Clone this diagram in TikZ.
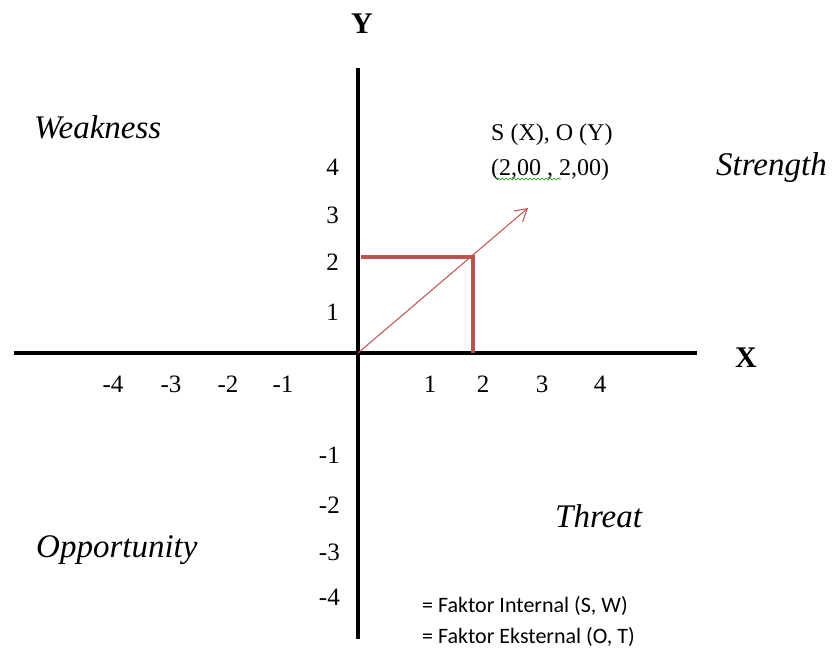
\documentclass[tikz,border=0pt]{standalone}
\usepackage{fontspec}
\setmainfont{Liberation Serif}
\newfontfamily\legendfont{Carlito}
\usepackage{xcolor}
\usetikzlibrary{arrows.meta, decorations.pathmorphing}

\definecolor{swotred}{RGB}{192,80,77}

\begin{document}
\begin{tikzpicture}[
    x=1pt, y=-1pt,
    axis/.style={line width=4.5pt},
    tick/.style={font=\fontsize{25}{30}\selectfont, inner sep=0pt},
    quadrant/.style={font=\fontsize{33}{38}\selectfont\itshape, inner sep=0pt, anchor=base west},
    axis_label/.style={font=\fontsize{30}{36}\selectfont\bfseries, inner sep=0pt, anchor=base},
    point_text/.style={font=\fontsize{24}{28}\selectfont, inner sep=0pt, anchor=base west},
    legend/.style={font=\legendfont\fontsize{22}{26}\selectfont, inner sep=0pt, anchor=base west},
    point_line/.style={swotred, line width=4pt},
    vector/.style={-{Straight Barb[length=12pt, width=14pt]}, swotred, line width=1pt}
]
\useasboundingbox (0,0) rectangle (833,667);

% axes
\coordinate (xl) at (14,353);
\coordinate (xr) at (697,353);
\coordinate (yt) at (358,68);
\coordinate (yb) at (358,639);
\draw [axis] (xl) -- (xr);
\draw [axis] (yt) -- (yb);
\node (xlab) [axis_label] at (746,367) {X};
\node (ylab) [axis_label] at (362,33) {Y};

% tick labels
\node (xm4) [tick, anchor=base] at (113,392) {-4};
\node (xm3) [tick, anchor=base] at (171,392) {-3};
\node (xm2) [tick, anchor=base] at (228,392) {-2};
\node (xm1) [tick, anchor=base] at (283,392) {-1};
\node (xp1) [tick, anchor=base] at (430,392) {1};
\node (xp2) [tick, anchor=base] at (483,392) {2};
\node (xp3) [tick, anchor=base] at (542,392) {3};
\node (xp4) [tick, anchor=base] at (600,392) {4};
\node (yp4) [tick, anchor=base east] at (339,175) {4};
\node (yp3) [tick, anchor=base east] at (339,223) {3};
\node (yp2) [tick, anchor=base east] at (339,270) {2};
\node (yp1) [tick, anchor=base east] at (339,320) {1};
\node (ym1) [tick, anchor=base east] at (340,463) {-1};
\node (ym2) [tick, anchor=base east] at (340,513) {-2};
\node (ym3) [tick, anchor=base east] at (340,560) {-3};
\node (ym4) [tick, anchor=base east] at (340,605) {-4};

% quadrants
\node (weak) [quadrant] at (34,138) {Weakness};
\node (strength) [quadrant] at (716,175) {Strength};
\node (opp) [quadrant] at (36,557) {Opportunity};
\node (threat) [quadrant] at (555,527) {Threat};

% position point
\coordinate (origin) at (358,353);
\coordinate (pt) at (473,257);
\coordinate (pty) at (361,257);
\coordinate (ptx) at (473,353);
\coordinate (tip) at (528,208);
\draw [point_line] (pty) -- (pt) -- (ptx);
\draw [vector] (origin) -- (tip);

\node (so) [point_text] at (491,140) {S (X), O (Y)};
\node (val) [point_text] at (491,175) {(2,00 , 2,00)};
\coordinate (sq1) at (497,179);
\coordinate (sq2) at (561,179);
\draw [green!60!black, line width=0.6pt, decorate, decoration={snake, amplitude=1pt, segment length=4pt}] (sq1) -- (sq2);

% legend
\node (leg1) [legend] at (422,612) {= Faktor Internal (S, W)};
\node (leg2) [legend] at (422,643) {= Faktor Eksternal (O, T)};
\end{tikzpicture}
\end{document}
